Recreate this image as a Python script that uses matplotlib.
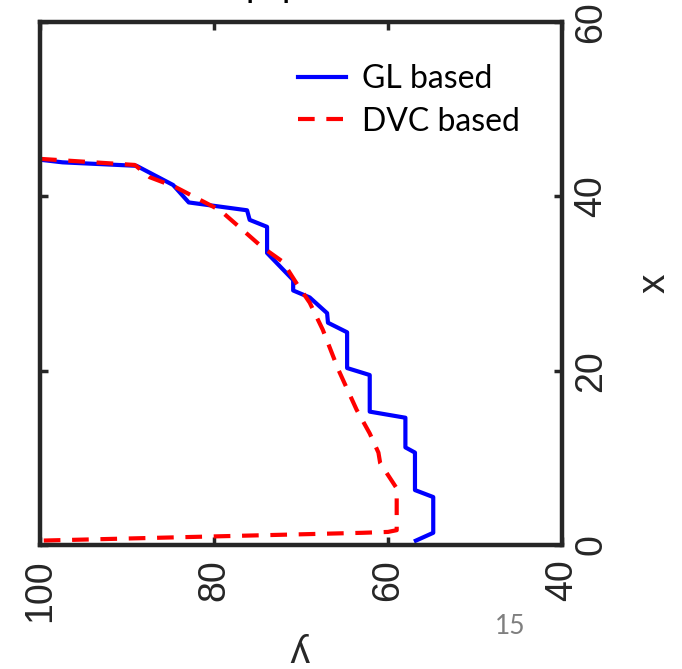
import matplotlib
matplotlib.use("Agg")
import matplotlib.pyplot as plt

# GL based curve: (y value on horizontal axis, x value on vertical axis)
gl_y = [100, 97.4, 88.9, 84.7, 82.9, 76.2, 75.9, 73.9, 73.9, 70.9, 70.9, 69.0, 67.0, 66.9,
        64.7, 64.7, 62.1, 62.1, 58.0, 58.0, 56.9, 56.9, 54.8, 54.8, 56.8]
gl_x = [44.2, 43.9, 43.5, 41.3, 39.3, 38.4, 37.3, 36.5, 33.5, 30.4, 29.2, 28.4, 26.6, 25.5,
        24.4, 20.3, 19.5, 15.3, 14.6, 11.2, 10.6, 6.3, 5.5, 1.4, 0.5]

# DVC based curve
dvc_y = [100, 89.1, 87.4, 84.5, 82.0, 79.3, 77.0, 74.5, 72.1, 70.5, 69.0, 67.5, 65.7, 63.6,
         62.1, 61.1, 60.9, 59.0, 59.0, 60.0, 62.9, 100]
dvc_x = [44.3, 43.6, 42.2, 41.1, 39.8, 38.4, 36.4, 34.2, 32.5, 30.0, 27.8, 24.7, 20.1, 15.5,
         12.8, 10.6, 9.4, 6.5, 1.7, 1.5, 1.4, 0.5]

y_ticks = [100, 80, 60, 40]
x_ticks = [0, 20, 40, 60]
legend_labels = ["GL based", "DVC based"]

fig = plt.figure(figsize=(6.82, 6.69), dpi=100)
ax = fig.add_axes([40/682, 1 - 545/669, (562-40)/682, (545-22)/669])

ax.plot(gl_y, gl_x, color="#0000ff", lw=3.0, label=legend_labels[0])
ax.plot(dvc_y, dvc_x, color="#ff0000", lw=3.0, ls=(0, (4, 2.8)), label=legend_labels[1])

ax.set_xlim(100, 40)
ax.set_ylim(0, 60)
ax.set_xticks(y_ticks)
ax.set_yticks(x_ticks)

for s in ax.spines.values():
    s.set_linewidth(3.2)
    s.set_color("#262626")

ax.tick_params(axis="both", direction="in", length=6, width=2.5, color="#262626",
               top=True, right=True, left=True, bottom=True,
               labelleft=False, labelright=True, labelbottom=True, labeltop=False,
               labelsize=27, labelcolor="#262626")
for lab in ax.get_xticklabels():
    lab.set_rotation(90)
    lab.set_family("Liberation Sans")
for lab in ax.get_yticklabels():
    lab.set_rotation(90)
    lab.set_family("Liberation Sans")
    lab.set_va("center")
ax.tick_params(axis="x", pad=10)
ax.tick_params(axis="y", pad=8)

ax.set_xlabel("y", fontsize=28, family="Liberation Sans", rotation=180, color="#262626",
              va="center", ha="center")
ax.xaxis.set_label_coords((300 - 40) / 522, -(650 - 545) / 523)
ax.yaxis.set_label_position("right")
ax.set_ylabel("x", fontsize=28, family="Liberation Sans", rotation=90, color="#262626", labelpad=20)

leg = ax.legend(loc="upper right", bbox_to_anchor=(0.975, 0.975), frameon=False,
                prop={"family": "Lato", "size": 23}, handlelength=1.5, handletextpad=0.5,
                labelspacing=0.4)

fig.text(245/682, 1 + 3/669, "p", fontsize=26, family="Lato", va="baseline", ha="left")
fig.text(282/682, 1 + 3/669, "p", fontsize=26, family="Lato", va="baseline", ha="left")
fig.text(510/682, 1 - 627/669, "15", fontsize=19, family="Lato", color="#7f7f7f",
         ha="center", va="center")

fig.savefig("out.png", dpi=100)
